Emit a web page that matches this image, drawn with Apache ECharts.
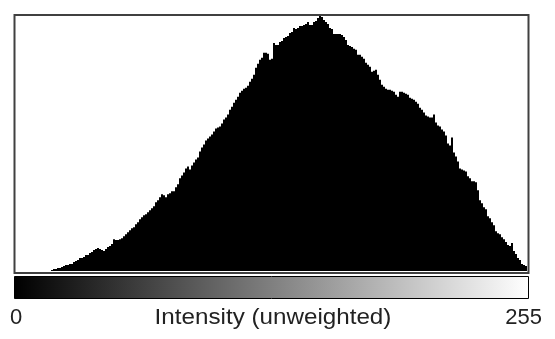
<!DOCTYPE html>
<html>
<head>
<meta charset="utf-8">
<script src="https://cdn.jsdelivr.net/npm/echarts@6/dist/echarts.min.js"></script>
<style>
  html, body { margin: 0; padding: 0; background: #fff; }
  #chart { width: 555px; height: 339px; }
</style>
</head>
<body>
<div id="chart"></div>
<script>
// Grey levels 0..255
const levels = Array.from({ length: 256 }, (_, i) => String(i));

// Pixel counts per grey level (relative units)
const counts = [
  0,0,0,0,0,0,0,0,0,0,0,0,0,0,0,0,
  0,0,1,2,2,3,3,4,5,6,6,7,7,9,10,11,
  13,13,14,16,16,18,19,21,22,23,22,21,20,22,24,25,
  27,32,31,31,32,33,35,37,39,41,43,44,47,49,52,54,
  56,57,59,61,63,65,69,71,74,77,76,74,77,78,80,80,
  84,87,93,96,99,103,105,102,106,109,112,114,120,124,127,131,
  133,135,137,140,143,144,145,148,152,154,157,162,165,169,172,175,
  179,181,183,184,186,190,193,197,204,208,212,214,219,219,218,212,
  213,229,227,227,230,231,234,235,236,239,240,244,243,244,246,246,
  247,248,250,247,247,250,251,254,256,255,252,250,248,244,243,238,
  238,238,238,237,235,232,227,226,225,223,222,217,217,215,213,209,
  207,205,200,201,202,197,192,187,185,183,182,182,181,180,177,175,
  180,180,179,178,177,174,173,172,170,168,164,162,159,156,155,154,
  154,157,149,146,145,142,140,136,128,126,134,119,115,110,103,102,
  101,100,95,93,90,90,89,81,71,68,64,62,55,53,49,46,
  40,38,37,34,32,29,26,25,28,20,17,13,11,7,6,5
];

// Labels under the intensity ramp
const rangeLabels = ['0', '255'];
const axisTitle = 'Intensity (unweighted)';

const chart = echarts.init(document.getElementById('chart'), null, { renderer: 'canvas' });

const font = '"Liberation Sans", Arial, sans-serif';

chart.setOption({
  animation: false,
  backgroundColor: '#fff',
  grid: { left: 15, top: 16, width: 512, height: 255, containLabel: false },
  xAxis: {
    type: 'category',
    data: levels,
    boundaryGap: true,
    show: false
  },
  yAxis: {
    type: 'value',
    min: 0,
    max: 256,
    show: false
  },
  series: [{
    type: 'bar',
    data: counts,
    barCategoryGap: '0%',
    barGap: '0%',
    silent: true,
    itemStyle: { color: '#000' }
  }],
  graphic: [
    // frame around the histogram
    {
      type: 'rect',
      shape: { x: 14.5, y: 15, width: 514, height: 258 },
      style: { fill: null, stroke: '#404040', lineWidth: 2 },
      z: 10
    },
    // grey-level ramp
    {
      type: 'rect',
      shape: { x: 14.5, y: 276.5, width: 514, height: 22 },
      style: {
        fill: {
          type: 'linear', x: 0, y: 0, x2: 1, y2: 0,
          colorStops: [{ offset: 0, color: '#000' }, { offset: 1, color: '#fff' }]
        },
        stroke: '#000',
        lineWidth: 1
      }
    },
    {
      type: 'text',
      x: 10, y: 318,
      style: { text: rangeLabels[0], font: '22px ' + font, fill: '#222', textAlign: 'left', textVerticalAlign: 'middle' }
    },
    {
      type: 'text',
      x: 273, y: 318,
      scaleX: 1.1,
      style: { text: axisTitle, font: '22px ' + font, fill: '#222', textAlign: 'center', textVerticalAlign: 'middle' }
    },
    {
      type: 'text',
      x: 542, y: 318,
      style: { text: rangeLabels[1], font: '22px ' + font, fill: '#222', textAlign: 'right', textVerticalAlign: 'middle' }
    }
  ]
});
</script>
</body>
</html>
